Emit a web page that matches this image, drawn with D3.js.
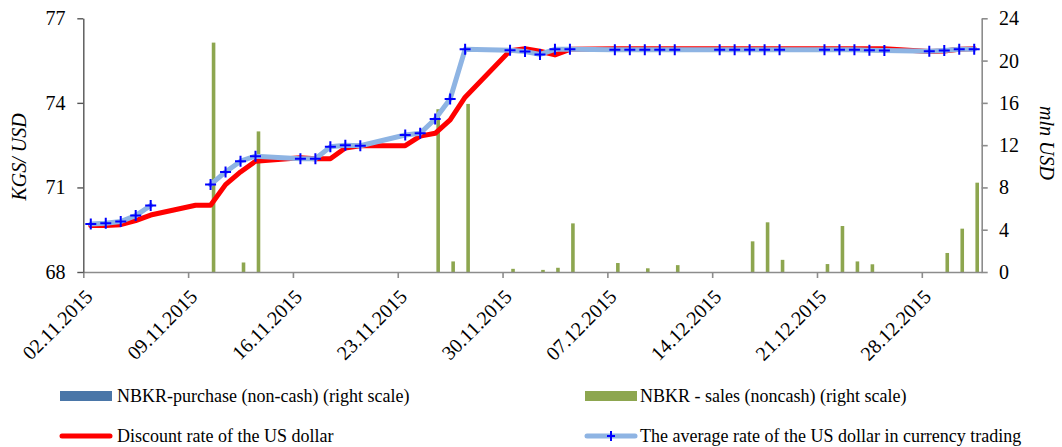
<!DOCTYPE html>
<html>
<head>
<meta charset="utf-8">
<script src="https://cdn.jsdelivr.net/npm/d3@7"></script>
<style>
  html, body { margin: 0; padding: 0; background: #fff; }
  svg { display: block; }
</style>
</head>
<body>
<svg id="chart" width="1062" height="447" font-family="'Liberation Serif', 'Times New Roman', Times, 'DejaVu Serif', serif"></svg>
<script>
// ---- data ----
const dates = [
  "2015-11-02","2015-11-03","2015-11-04","2015-11-05","2015-11-06",
  "2015-11-09","2015-11-10","2015-11-11","2015-11-12","2015-11-13",
  "2015-11-16","2015-11-17","2015-11-18","2015-11-19","2015-11-20",
  "2015-11-23","2015-11-24","2015-11-25","2015-11-26","2015-11-27",
  "2015-11-30","2015-12-01","2015-12-02","2015-12-03","2015-12-04",
  "2015-12-07","2015-12-08","2015-12-09","2015-12-10","2015-12-11",
  "2015-12-14","2015-12-15","2015-12-16","2015-12-17","2015-12-18",
  "2015-12-21","2015-12-22","2015-12-23","2015-12-24","2015-12-25",
  "2015-12-28","2015-12-29","2015-12-30","2015-12-31"
];
const discountRate = [
  69.65, 69.65, 69.68, 69.82, 70.02,
  70.37, 70.37, 71.10, 71.55, 71.93,
  72.05, 72.02, 72.02, 72.40, 72.48,
  72.48, 72.82, 72.92, 73.40, 74.20,
  75.85, 75.92, 75.83, 75.70, 75.90,
  75.92, 75.92, 75.92, 75.92, 75.92,
  75.92, 75.92, 75.92, 75.92, 75.92,
  75.92, 75.92, 75.92, 75.92, 75.92,
  75.82, 75.84, 75.90, 75.92
];
const averageRate = [
  69.70, 69.73, 69.79, 70.00, 70.36,
  null,  71.10, 71.55, 71.93, 72.11,
  72.02, 72.02, 72.44, 72.50, 72.48,
  72.86, 72.92, 73.43, 74.14, 75.90,
  75.87, 75.82, 75.72, 75.90, 75.90,
  75.88, 75.88, 75.88, 75.88, 75.88,
  75.88, 75.88, 75.88, 75.88, 75.88,
  75.88, 75.88, 75.88, 75.87, 75.86,
  75.83, 75.86, 75.90, 75.90
];
const purchase = new Array(44).fill(0);
const sales = [
  0, 0, 0, 0, 0,
  0, 21.7, 0, 0.9, 13.3,
  0, 0, 0, 0, 0,
  0, 0, 15.4, 1.0, 15.9,
  0.3, 0, 0.2, 0.4, 4.6,
  0.85, 0, 0.35, 0, 0.65,
  0, 0, 2.9, 4.7, 1.15,
  0.75, 4.35, 1.0, 0.73, 0,
  0, 1.8, 4.1, 8.45
];
const leftTicks = [68, 71, 74, 77];
const rightTicks = [0, 4, 8, 12, 16, 20, 24];
const xTickDates = ["2015-11-02","2015-11-09","2015-11-16","2015-11-23","2015-11-30",
                    "2015-12-07","2015-12-14","2015-12-21","2015-12-28"];
const seriesNames = ["NBKR-purchase (non-cash) (right scale)", "NBKR - sales (noncash) (right scale)",
                     "Discount rate of the US dollar", "The average rate of the US dollar in currency trading"];
const yLeftTitle = "KGS/ USD";
const yRightTitle = "mln USD";

(function () {
const FONT = "'Liberation Serif', 'Times New Roman', Times, 'DejaVu Serif', serif";
// ---- setup ----
const parse = d3.utcParse("%Y-%m-%d");
const fmt = d3.utcFormat("%d.%m.%Y");
const rows = dates.map((d, i) => ({
  date: parse(d), disc: discountRate[i], avg: averageRate[i],
  purchase: purchase[i], sales: sales[i]
}));

const svg = d3.select("#chart");
svg.append("rect").attr("width", 1062).attr("height", 447).attr("fill", "#fff");

const pL = 83.3, pR = 981.7, pT = 18.3, pB = 272;
const x = d3.scaleUtc().domain([parse("2015-11-02"), parse("2016-01-01")]).range([pL, pR]);
const yL = d3.scaleLinear().domain([68, 77]).range([pB, pT]);
const yR = d3.scaleLinear().domain([0, 24]).range([pB, pT]);
const slotW = x(parse("2015-11-03")) - x(parse("2015-11-02"));
const sub = d3.scaleBand().domain(["purchase", "sales"]).range([1.5, slotW - 1.5])
  .paddingInner(0.4).paddingOuter(0.2);
const center = d => x(d) + slotW / 2;

// ---- bars ----
const colPurchase = "#4A76A8", colSales = "#8DA64F";
const barG = svg.append("g");
[["purchase", colPurchase], ["sales", colSales]].forEach(([key, col]) => {
  barG.selectAll("rect." + key).data(rows).join("rect")
    .attr("class", key)
    .attr("x", d => x(d.date) + sub(key))
    .attr("width", sub.bandwidth())
    .attr("y", d => yR(d[key]))
    .attr("height", d => yR(0) - yR(d[key]))
    .attr("fill", col);
});

// ---- axes ----
const axisGray = "#8C8C8C";
const gx = svg.append("g").attr("transform", `translate(0,${pB})`)
  .call(d3.axisBottom(x).tickValues(xTickDates.map(parse)).tickSize(6).tickSizeOuter(0).tickFormat(""));
gx.select(".domain").attr("stroke", axisGray).attr("stroke-width", 1.6);
gx.selectAll(".tick line").attr("stroke", axisGray).attr("stroke-width", 1.6);

const T = svg.append("g").attr("font-family", FONT).attr("fill", "#000");
T.append("g").selectAll("text").data(xTickDates.map(parse)).join("text")
  .attr("transform", d => `translate(${x(d) + 10.5},${298}) rotate(-45)`)
  .attr("text-anchor", "end")
  .attr("font-size", 20)
  .text(d => fmt(d));

const gl = svg.append("g").attr("transform", `translate(${pL},0)`)
  .call(d3.axisLeft(yL).tickValues(leftTicks).tickSize(6).tickSizeOuter(0).tickFormat(""));
gl.select(".domain").attr("stroke", "#555").attr("stroke-width", 1.4);
gl.selectAll(".tick line").attr("stroke", "#555").attr("stroke-width", 1.4);
T.append("g").selectAll("text").data(leftTicks).join("text")
  .attr("x", 65.5).attr("y", d => yL(d)).attr("dy", "0.35em")
  .attr("text-anchor", "end").attr("font-size", 20).text(d => d);

const gr = svg.append("g").attr("transform", `translate(${pR},0)`)
  .call(d3.axisRight(yR).tickValues(rightTicks).tickSize(6).tickSizeOuter(0).tickFormat(""));
gr.select(".domain").attr("stroke", axisGray).attr("stroke-width", 1.6);
gr.selectAll(".tick line").attr("stroke", axisGray).attr("stroke-width", 1.6);
T.append("g").selectAll("text").data(rightTicks).join("text")
  .attr("x", 999).attr("y", d => yR(d)).attr("dy", "0.35em")
  .attr("text-anchor", "start").attr("font-size", 20).text(d => d);

T.append("text")
  .attr("transform", `translate(25.5,157) rotate(-90)`)
  .attr("text-anchor", "middle").attr("font-size", 20).attr("font-style", "italic")
  .text(yLeftTitle);
T.append("text")
  .attr("transform", `translate(1040,143) rotate(90)`)
  .attr("text-anchor", "middle").attr("font-size", 20).attr("font-style", "italic")
  .text(yRightTitle);

// ---- lines ----
const colRed = "#FF0000", colLight = "#8EB4E3", colMarker = "#0000FF";
const lineDisc = d3.line().defined(d => d.disc != null).x(d => center(d.date)).y(d => yL(d.disc));
const lineAvg = d3.line().defined(d => d.avg != null).x(d => center(d.date)).y(d => yL(d.avg));
svg.append("path").datum(rows).attr("d", lineDisc)
  .attr("fill", "none").attr("stroke", colRed).attr("stroke-width", 5)
  .attr("stroke-linejoin", "round").attr("stroke-linecap", "round");
svg.append("path").datum(rows).attr("d", lineAvg)
  .attr("fill", "none").attr("stroke", colLight).attr("stroke-width", 5)
  .attr("stroke-linejoin", "round").attr("stroke-linecap", "round");
const plus = "M-5.5,0H5.5M0,-5.5V5.5";
svg.append("g").selectAll("path").data(rows.filter(d => d.avg != null)).join("path")
  .attr("transform", d => `translate(${center(d.date)},${yL(d.avg)})`)
  .attr("d", plus).attr("stroke", colMarker).attr("stroke-width", 2).attr("fill", "none");

// ---- legend ----
const lg = svg.append("g").attr("font-family", FONT).attr("fill", "#000");
const fs = 18;
lg.append("rect").attr("x", 60).attr("y", 391).attr("width", 52).attr("height", 10).attr("fill", colPurchase);
lg.append("text").attr("x", 117).attr("y", 402).attr("font-size", fs).text(seriesNames[0]);
lg.append("rect").attr("x", 585).attr("y", 391).attr("width", 52).attr("height", 10).attr("fill", colSales);
lg.append("text").attr("x", 640).attr("y", 402).attr("font-size", fs).text(seriesNames[1]);
lg.append("line").attr("x1", 62).attr("x2", 110).attr("y1", 436).attr("y2", 436)
  .attr("stroke", colRed).attr("stroke-width", 5).attr("stroke-linecap", "round");
lg.append("text").attr("x", 117).attr("y", 442).attr("font-size", fs).text(seriesNames[2]);
lg.append("line").attr("x1", 587).attr("x2", 635).attr("y1", 436).attr("y2", 436)
  .attr("stroke", colLight).attr("stroke-width", 5).attr("stroke-linecap", "round");
lg.append("path").attr("transform", "translate(611,436)").attr("d", "M-4,0H4M0,-5V5")
  .attr("stroke", colMarker).attr("stroke-width", 2);
lg.append("text").attr("x", 640).attr("y", 442).attr("font-size", fs).text(seriesNames[3]);
})();
</script>
</body>
</html>
